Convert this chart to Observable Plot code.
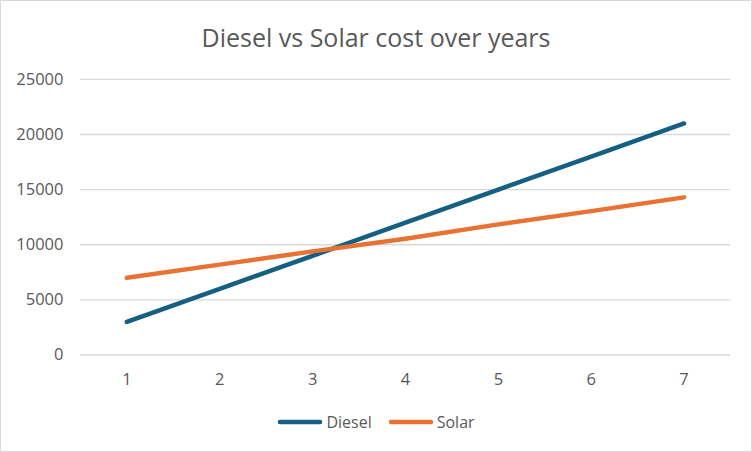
<!DOCTYPE html>
<html>
<head>
<meta charset="utf-8">
<script src="https://cdn.jsdelivr.net/npm/d3@7"></script>
<script src="https://cdn.jsdelivr.net/npm/@observablehq/plot@0.6"></script>
<style>
  html, body { margin: 0; padding: 0; background: #fff; }
  #wrap { position: relative; width: 752px; height: 452px; box-sizing: border-box; border: 1px solid #d9d9d9; font-family: "Open Sans", Lato, sans-serif; color: #595959; overflow: hidden; }
  #title { position: absolute; left: 0; right: 0; top: 18px; text-align: center; font-size: 25px; line-height: 36px; color: #595959; }
  #chart { position: absolute; left: -1px; top: -1px; }
  #legend { position: absolute; left: 0; right: 0; top: 409px; display: flex; justify-content: center; gap: 16px; font-size: 16px; line-height: 24px; }
  #legend span.item { display: flex; align-items: center; }
  #legend svg { margin-right: 3px; }
</style>
</head>
<body>
<div id="wrap">
  <div id="title">Diesel vs Solar cost over years</div>
  <div id="chart"></div>
  <div id="legend"></div>
</div>
<script>
const years = [1, 2, 3, 4, 5, 6, 7];
const diesel = [3000, 6000, 9000, 12000, 15000, 18000, 21000];
const solar = [7000, 8200, 9400, 10550, 11850, 13050, 14300];
const seriesNames = ["Diesel", "Solar"];
const seriesColors = ["#156082", "#E97132"];
const yTicks = [0, 5000, 10000, 15000, 20000, 25000];

const rows = [];
years.forEach((yr, i) => {
  rows.push({year: yr, value: diesel[i], series: "Diesel"});
  rows.push({year: yr, value: solar[i], series: "Solar"});
});

const plot = Plot.plot({
  width: 752,
  height: 400,
  marginTop: 79,
  marginBottom: 45,
  marginLeft: 80,
  marginRight: 21,
  style: {fontFamily: '"Open Sans", Lato, sans-serif', fontSize: "16.5px", color: "#595959", background: "transparent"},
  x: {domain: [0.5, 7.5], ticks: years, tickFormat: d => String(d)},
  y: {domain: [0, 25000], ticks: yTicks, tickFormat: d => String(d)},
  color: {domain: seriesNames, range: seriesColors},
  marks: [
    Plot.ruleY(yTicks, {stroke: "#d9d9d9", strokeWidth: 1.3}),
    Plot.axisY({ticks: yTicks, tickSize: 0, tickPadding: 17, label: null, tickFormat: d => String(d), fill: "#595959"}),
    Plot.axisX({ticks: years, tickSize: 0, tickPadding: 18, label: null, tickFormat: d => String(d), fill: "#595959"}),
    Plot.line(rows, {x: "year", y: "value", z: "series", stroke: "series", strokeWidth: 4.5, strokeLinecap: "round", strokeLinejoin: "round"})
  ]
});
document.getElementById("chart").appendChild(plot);

const legend = document.getElementById("legend");
seriesNames.forEach((name, i) => {
  const item = document.createElement("span");
  item.className = "item";
  item.innerHTML = `<svg width="46" height="10"><line x1="3" y1="5" x2="43" y2="5" stroke="${seriesColors[i]}" stroke-width="4.5" stroke-linecap="round"/></svg>${name}`;
  legend.appendChild(item);
});
</script>
</body>
</html>
